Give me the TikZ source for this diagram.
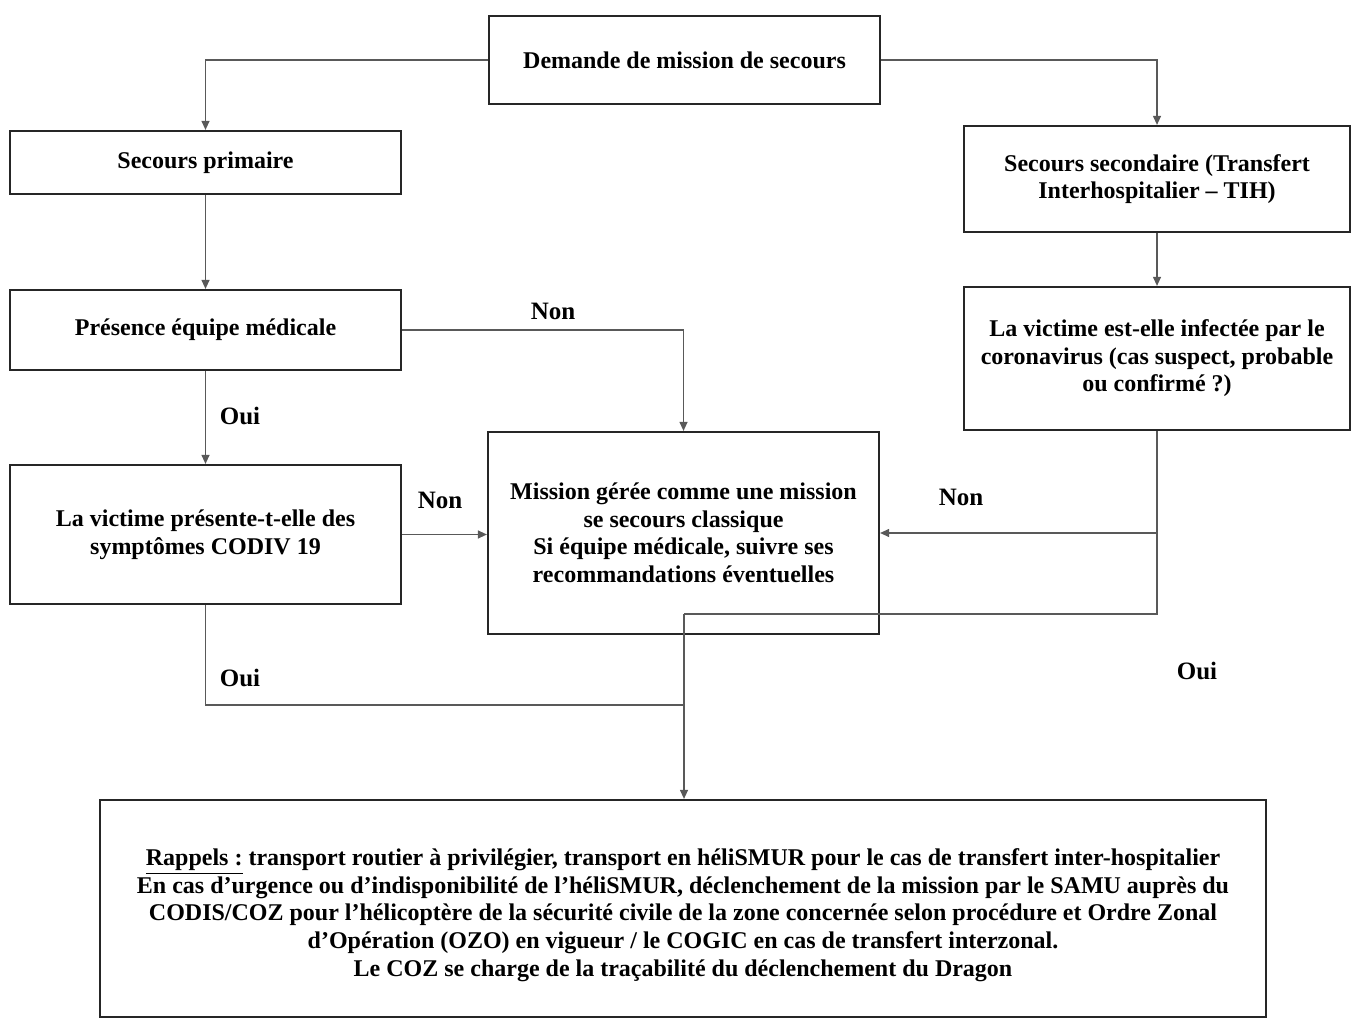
\documentclass[tikz,border=0pt]{standalone}
\usepackage{fontspec}
\setmainfont{Liberation Serif}
\usetikzlibrary{arrows.meta}
\begin{document}
\begin{tikzpicture}[x=0.5pt,y=-0.5pt,
  box/.style={draw=black!85,line width=1.1pt,inner sep=0pt,align=center,font=\bfseries\fontsize{12}{13.8}\selectfont},
  conn/.style={draw=black!65,line width=0.6pt,-{Triangle[length=4.5pt,width=4pt]}},
  plain/.style={draw=black!65,line width=0.6pt},
  lbl/.style={font=\bfseries\fontsize{12.5}{13}\selectfont}]
\useasboundingbox (0,0) rectangle (1352,1020);
\node[box,minimum width=195.5pt,minimum height=44pt] (top) at (684.5,60) {Demande de mission de secours};
\node[box,minimum width=195.5pt,minimum height=31.5pt] (prim) at (205.5,162.5) {Secours primaire};
\node[box,minimum width=193pt,minimum height=53pt] (sec) at (1157,179) {Secours secondaire (Transfert\\Interhospitalier -- TIH)};
\node[box,minimum width=195.5pt,minimum height=40pt] (pres) at (205.5,330) {Présence équipe médicale};
\node[box,minimum width=193pt,minimum height=71.5pt] (inf) at (1157,358.5) {La victime est-elle infectée par le\\coronavirus (cas suspect, probable\\ou confirmé ?)};
\node[box,minimum width=195.5pt,minimum height=69.5pt] (symp) at (205.5,534.5) {La victime présente-t-elle des\\symptômes CODIV 19};
\node[box,minimum width=195.5pt,minimum height=101pt] (miss) at (683.5,533) {Mission gérée comme une mission\\se secours classique\\Si équipe médicale, suivre ses\\recommandations éventuelles};
\node[box,minimum width=583pt,minimum height=108.5pt] (rap) at (683,908.5) {\rule{0pt}{15pt}\underline{Rappels :} transport routier à privilégier, transport en héliSMUR pour le cas de transfert inter-hospitalier\\
En cas d'urgence ou d'indisponibilité de l'héliSMUR, déclenchement de la mission par le SAMU auprès du\\
CODIS/COZ pour l'hélicoptère de la sécurité civile de la zone concernée selon procédure et Ordre Zonal\\
d'Opération (OZO) en vigueur / le COGIC en cas de transfert interzonal.\\
Le COZ se charge de la traçabilité du déclenchement du Dragon};
\coordinate (j1) at (684,614);
\coordinate (j2) at (684,705);
% connectors
\draw[conn] (top.west) -| (prim.north);
\draw[conn] (top.east) -| (sec.north);
\draw[conn] (prim.south) -- (pres.north);
\draw[conn] (sec.south) -- (inf.north);
\draw[conn] (pres.east) -| (miss.north);
\draw[conn] (pres.south) -- (symp.north);
\draw[conn] (symp.east) -- (symp.east -| miss.west);
\draw[conn] (inf.south) |- (miss.east);
\draw[plain] (inf.south) |- (j1);
\draw[plain] (symp.south) |- (j2);
\draw[conn] (j1) -- (rap.north -| j1);
% labels
\node[lbl] (l1) at (553,311) {Non};
\node[lbl] (l2) at (240,416) {Oui};
\node[lbl] (l3) at (440,500) {Non};
\node[lbl] (l4) at (961,497) {Non};
\node[lbl] (l5) at (240,678) {Oui};
\node[lbl] (l6) at (1197,671) {Oui};
\end{tikzpicture}
\end{document}
